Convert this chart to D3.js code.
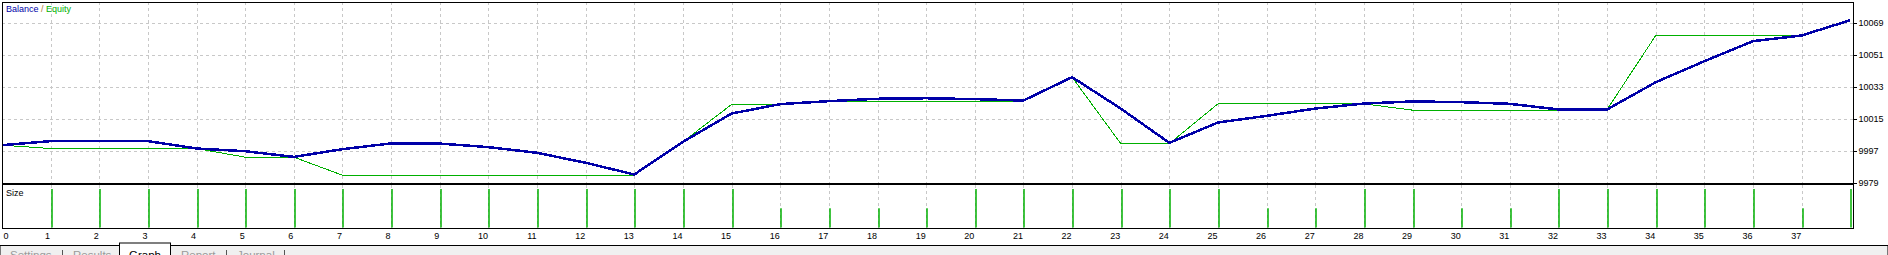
<!DOCTYPE html>
<html>
<head>
<meta charset="utf-8">
<script src="https://cdn.jsdelivr.net/npm/d3@7"></script>
<style>
  body { margin: 0; background: #fff; overflow: hidden; }
  svg { display: block; font-family: "Liberation Sans", Arial, sans-serif; }
  .grid line { stroke: #c8c8c8; stroke-dasharray: 3,3; shape-rendering: crispEdges; }
  .axis text { font-size: 9px; fill: #000; }
  .axis path { display: none; }
  .axis line { stroke: #000; shape-rendering: crispEdges; }
</style>
</head>
<body>
<script>
// trade index 0..38
var trades = d3.range(0, 39);

var balance = [10000, 10002.3, 10002.3, 10002.3, 9998.1, 9996.6, 9993.4, 9997.75, 10001, 10000.9,
    9998.9, 9995.7, 9990.1, 9983.5, 10001.9, 10017.8, 10023.1, 10024.75, 10026.1, 10026.4,
    10025.9, 10025.1, 10038.25, 10020.6, 10001.3, 10012.75, 10016.5, 10020.6, 10023.4, 10024.6,
    10024.2, 10023.25, 10020.1, 10020.1, 10035.4, 10047.25, 10058.5, 10061.7, 10070.3];

var equity = [10000, 9998.1, 9998.1, 9998.1, 9998.1, 9993.25, 9993.25, 9983.1, 9983.1, 9983.1,
    9983.1, 9983.1, 9983.1, 9983.1, 10001.9, 10022.9, 10023.1, 10024.75, 10024.75, 10024.75,
    10024.75, 10024.75, 10038.25, 10000.9, 10000.9, 10023.25, 10023.25, 10023.25, 10023.25, 10019.7,
    10019.7, 10019.7, 10019.7, 10020.1, 10061.7, 10061.7, 10061.7, 10061.7, 10070.3];

// lot size per trade (no trade at 0)
var sizes = [null, 0.2, 0.2, 0.2, 0.2, 0.2, 0.2, 0.2, 0.2, 0.2,
    0.2, 0.2, 0.2, 0.2, 0.2, 0.2, 0.1, 0.1, 0.1, 0.1,
    0.2, 0.2, 0.2, 0.2, 0.2, 0.2, 0.1, 0.1, 0.2, 0.2,
    0.1, 0.1, 0.2, 0.2, 0.2, 0.2, 0.2, 0.1, 0.2];

var yTicks = [9979, 9997, 10015, 10033, 10051, 10069];
var xTicks = d3.range(0, 38);
var tabs = ["Settings", "Results", "Graph", "Report", "Journal"];

var W = 1888, H = 255;
var main = {left: 2, right: 1853, top: 2, bottom: 182.5};
var sizePanel = {top: 184.5, bottom: 228};

var balanceColor = "#0000a8",
    equityColor = "#00b000";

var svg = d3.select("body").append("svg")
    .attr("width", W)
    .attr("height", H);

var x = d3.scaleLinear()
    .domain([0, 38])
    .range([2, 1850.3]);

var y = d3.scaleLinear()
    .domain([9979, 9979 + (main.bottom - main.top) * 18 / 32])
    .range([main.bottom, main.top]);

var ySize = d3.scaleLinear()
    .domain([0, 0.2])
    .range([sizePanel.bottom - 0.5, 189]);

// grid, main panel
svg.append("g")
    .attr("class", "grid")
    .selectAll("line.h")
    .data(yTicks.slice(1))
    .enter()
    .append("line")
    .attr("x1", main.left)
    .attr("x2", main.right)
    .attr("y1", d => Math.round(y(d)) + 0.5)
    .attr("y2", d => Math.round(y(d)) + 0.5);

var vgrid = svg.append("g").attr("class", "grid");
vgrid.selectAll("line.vm")
    .data(xTicks.slice(1))
    .enter()
    .append("line")
    .attr("x1", d => Math.round(x(d)) + 0.5)
    .attr("x2", d => Math.round(x(d)) + 0.5)
    .attr("y1", main.top)
    .attr("y2", main.bottom);
vgrid.selectAll("line.vs")
    .data(xTicks.slice(1))
    .enter()
    .append("line")
    .attr("x1", d => Math.round(x(d)) + 0.5)
    .attr("x2", d => Math.round(x(d)) + 0.5)
    .attr("y1", sizePanel.top)
    .attr("y2", sizePanel.bottom);

// equity and balance lines
var line = d3.line()
    .x(d => x(d.i))
    .y(d => y(d.v));

svg.append("path")
    .attr("d", line(trades.map(i => ({i: i, v: equity[i]}))))
    .attr("fill", "none")
    .attr("stroke", equityColor)
    .attr("stroke-width", 1)
    .style("shape-rendering", "crispEdges");

svg.append("path")
    .attr("d", line(trades.map(i => ({i: i, v: balance[i]}))))
    .attr("fill", "none")
    .attr("stroke", balanceColor)
    .attr("stroke-width", 2.5)
    .attr("stroke-linejoin", "round")
    .style("shape-rendering", "crispEdges");

// size bars
svg.selectAll(".size-bar")
    .data(trades.filter(i => sizes[i] != null))
    .enter()
    .append("line")
    .attr("class", "size-bar")
    .attr("x1", d => Math.round(x(d)) + 1)
    .attr("x2", d => Math.round(x(d)) + 1)
    .attr("y1", d => ySize(sizes[d]))
    .attr("y2", sizePanel.bottom - 0.5)
    .attr("stroke", equityColor)
    .attr("stroke-width", 1.5);

// panel frames
svg.append("rect")
    .attr("x", main.left + 0.5)
    .attr("y", main.top + 0.5)
    .attr("width", main.right - main.left)
    .attr("height", main.bottom - main.top)
    .attr("fill", "none")
    .attr("stroke", "#000")
    .style("shape-rendering", "crispEdges");

svg.append("rect")
    .attr("x", main.left + 0.5)
    .attr("y", sizePanel.top)
    .attr("width", main.right - main.left)
    .attr("height", sizePanel.bottom - sizePanel.top)
    .attr("fill", "none")
    .attr("stroke", "#000")
    .style("shape-rendering", "crispEdges");

// right value axis
svg.append("g")
    .attr("class", "axis")
    .attr("transform", "translate(" + (main.right + 0.5) + ",0)")
    .call(d3.axisRight(y).tickValues(yTicks).tickSize(3).tickPadding(2).tickFormat(d3.format("d")));

// bottom trade-number labels
svg.append("g")
    .attr("class", "axis")
    .attr("transform", "translate(0," + (sizePanel.bottom + 1) + ")")
    .call(d3.axisBottom(x).tickValues(xTicks).tickSize(0).tickPadding(0).tickFormat(d3.format("d")))
    .selectAll("text")
    .attr("text-anchor", d => d == 0 ? "start" : "end")
    .attr("dx", d => d == 0 ? 1 : -1)
    .attr("dy", "0")
    .attr("y", 10);

// legend
var legend = svg.append("text")
    .attr("x", 6)
    .attr("y", 12)
    .style("font-size", "9px");
legend.append("tspan").attr("fill", balanceColor).text("Balance");
legend.append("tspan").attr("fill", "#b07830").text(" / ");
legend.append("tspan").attr("fill", equityColor).text("Equity");

svg.append("text")
    .attr("x", 6)
    .attr("y", 196)
    .style("font-size", "9px")
    .text("Size");

// tab strip at the bottom
svg.append("rect")
    .attr("x", 0)
    .attr("y", 245.5)
    .attr("width", W)
    .attr("height", H - 245)
    .attr("fill", "#f0f0f0")
    .attr("stroke", "#000")
    .attr("stroke-width", 1);

svg.append("rect")
    .attr("x", 119.5)
    .attr("y", 243)
    .attr("width", 51)
    .attr("height", 20)
    .attr("fill", "#fff")
    .attr("stroke", "#000");
svg.append("rect")
    .attr("x", 120)
    .attr("y", 244)
    .attr("width", 50)
    .attr("height", 20)
    .attr("fill", "#fff");

var tabX = [10, 73, 129, 181, 237];
var sepX = [62, 226, 284];
svg.selectAll(".tab")
    .data(tabs)
    .enter()
    .append("text")
    .attr("class", "tab")
    .attr("x", (d, i) => tabX[i])
    .attr("y", 259)
    .style("font-size", "11.5px")
    .attr("fill", d => d == "Graph" ? "#000" : "#9a9a9a")
    .text(d => d);
svg.selectAll(".tab-sep")
    .data(sepX)
    .enter()
    .append("line")
    .attr("class", "tab-sep")
    .attr("x1", d => d + 0.5)
    .attr("x2", d => d + 0.5)
    .attr("y1", 250)
    .attr("y2", H)
    .attr("stroke", "#555");
</script>
</body>
</html>
